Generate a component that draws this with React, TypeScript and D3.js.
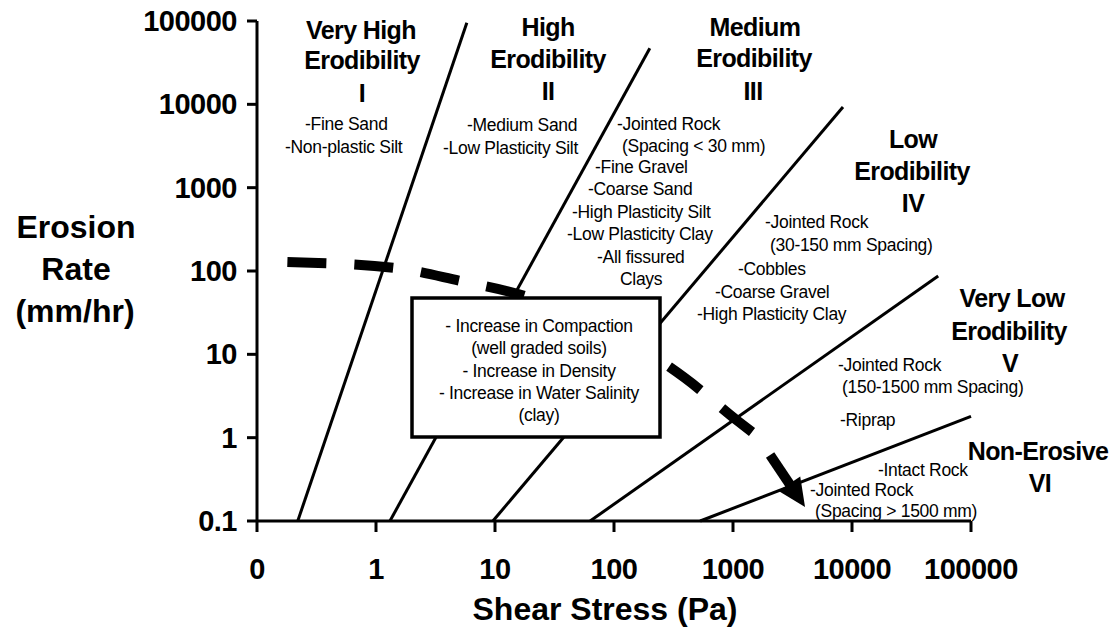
import React from "react";
import * as d3 from "d3";

// ---- data ----
const xTickValues = [0.1, 1, 10, 100, 1000, 10000, 100000];
const xTickLabels = ["0", "1", "10", "100", "1000", "10000", "100000"];
const yTickValues = [0.1, 1, 10, 100, 1000, 10000, 100000];
const yTickLabels = ["0.1", "1", "10", "100", "1000", "10000", "100000"];

// boundary lines between erodibility categories: [shear stress (Pa), erosion rate (mm/hr)]
const boundaryI: [number, number][] = [[0.22, 0.1], [5.8, 95000]];
const boundaryII: [number, number][] = [[1.31, 0.1], [200, 47000]];
const boundaryIII: [number, number][] = [[9.6, 0.1], [8400, 9300]];
const boundaryIV: [number, number][] = [[63, 0.1], [53000, 87]];
const boundaryV: [number, number][] = [[530, 0.1], [100000, 1.8]];
const boundaries = [boundaryI, boundaryII, boundaryIII, boundaryIV, boundaryV];

// trend (dashed arrow)
const trendCurve: [number, number][] = [
  [0.18, 128], [1.42, 109], [5.08, 76], [17.9, 50], [395, 5.2], [1100, 1.58], [1445, 1.17],
];
const arrowStart: [number, number] = [2050, 0.62];
const arrowTip: [number, number] = [4030, 0.147];

const zoneTitles = [
  ["Very High", "Erodibility", "I"],
  ["High", "Erodibility", "II"],
  ["Medium", "Erodibility", "III"],
  ["Low", "Erodibility", "IV"],
  ["Very Low", "Erodibility", "V"],
  ["Non-Erosive", "VI"],
];
const zoneMaterials = [
  ["-Fine Sand", "-Non-plastic Silt"],
  ["-Medium Sand", "-Low Plasticity Silt"],
  ["-Jointed Rock", "(Spacing < 30 mm)", "-Fine Gravel", "-Coarse Sand", "-High Plasticity Silt", "-Low Plasticity Clay", "-All fissured", "Clays"],
  ["-Jointed Rock", "(30-150 mm Spacing)", "-Cobbles", "-Coarse Gravel", "-High Plasticity Clay"],
  ["-Jointed Rock", "(150-1500 mm Spacing)", "-Riprap"],
  ["-Intact Rock", "-Jointed Rock", "(Spacing > 1500 mm)"],
];
const boxLines = [
  "- Increase in Compaction",
  "(well graded soils)",
  "- Increase in Density",
  "- Increase in Water Salinity",
  "(clay)",
];

// ---- layout (pixels) ----
const titleLayout = [
  { x: [361, 362, 362], y: [39, 69, 102] },
  { x: [548, 548, 548], y: [36, 68, 100] },
  { x: [755, 754, 753], y: [36, 67, 100] },
  { x: [913, 912, 913], y: [148, 180, 212] },
  { x: [1012, 1009, 1010], y: [307, 340, 372] },
  { x: [1038, 1040], y: [460, 492] },
];
const materialLayout = [
  { x: [305, 285], y: [130, 153] },
  { x: [467, 443], y: [131, 154] },
  { x: [617, 622, 595, 588, 572, 567, 597, 620], y: [130, 152, 173, 195, 218, 240, 263, 285] },
  { x: [765, 770, 738, 715, 697], y: [228, 251, 275, 298, 320] },
  { x: [838, 842, 840], y: [371, 393, 426] },
  { x: [878, 810, 815], y: [476, 496, 517] },
];
const boxRect = { x: 412, y: 298, w: 248, h: 139 };
const boxTextX = 539;
const boxTextY = [332, 354, 377, 399, 421];

const FONT = "'Liberation Sans', Arial, Helvetica, sans-serif";

export default function App() {
  const x = d3.scaleLog().domain([0.1, 100000]).range([257, 971]);
  const y = d3.scaleLog().domain([0.1, 100000]).range([521, 21]);

  const straight = d3
    .line<[number, number]>()
    .x((d) => x(d[0]))
    .y((d) => y(d[1]));
  const smooth = d3
    .line<[number, number]>()
    .x((d) => x(d[0]))
    .y((d) => y(d[1]))
    .curve(d3.curveMonotoneX);

  // arrow head
  const sx = x(arrowStart[0]);
  const sy = y(arrowStart[1]);
  const tx = x(arrowTip[0]);
  const ty = y(arrowTip[1]);
  const len = Math.hypot(tx - sx, ty - sy);
  const ux = (tx - sx) / len;
  const uy = (ty - sy) / len;
  const headLen = 28;
  const headHalf = 13;
  const bx = tx - ux * headLen;
  const by = ty - uy * headLen;
  const nx = -uy;
  const ny = ux;
  const headPts = [
    [bx + nx * headHalf, by + ny * headHalf],
    [tx, ty],
    [bx - nx * headHalf, by - ny * headHalf],
  ]
    .map((p) => p.join(","))
    .join(" ");

  const x0 = x(0.1);
  const y0 = y(0.1);

  return (
    <svg
      width={1116}
      height={630}
      style={{ position: "absolute", left: 0, top: 0, background: "#fff" }}
      fontFamily={FONT}
    >
      <rect x={0} y={0} width={1116} height={630} fill="#fff" />

      {/* boundary lines */}
      {boundaries.map((b, i) => (
        <path key={i} d={straight(b) || ""} stroke="#000" strokeWidth={3} fill="none" />
      ))}

      {/* dashed trend */}
      <path
        d={smooth(trendCurve) || ""}
        stroke="#000"
        strokeWidth={10}
        fill="none"
        strokeDasharray="39 28"
      />
      <line x1={sx} y1={sy} x2={bx + ux * 2} y2={by + uy * 2} stroke="#000" strokeWidth={10} />
      <polygon points={headPts} fill="#000" />

      {/* box */}
      <rect
        x={boxRect.x}
        y={boxRect.y}
        width={boxRect.w}
        height={boxRect.h}
        fill="#fff"
        stroke="#000"
        strokeWidth={3.5}
      />
      {boxLines.map((t, i) => (
        <text key={i} x={boxTextX} y={boxTextY[i]} fontSize={17.5} textAnchor="middle" letterSpacing={-0.3}>
          {t}
        </text>
      ))}

      {/* zone titles */}
      {zoneTitles.map((lines, i) =>
        lines.map((t, j) => (
          <text
            key={`t${i}-${j}`}
            x={titleLayout[i].x[j]}
            y={titleLayout[i].y[j]}
            fontSize={25}
            fontWeight="bold"
            textAnchor="middle"
            letterSpacing={-0.6}
          >
            {t}
          </text>
        ))
      )}

      {/* materials */}
      {zoneMaterials.map((lines, i) =>
        lines.map((t, j) => (
          <text
            key={`m${i}-${j}`}
            x={materialLayout[i].x[j]}
            y={materialLayout[i].y[j]}
            fontSize={17.5}
            letterSpacing={-0.3}
          >
            {t}
          </text>
        ))
      )}

      {/* axes */}
      <line x1={x0} y1={y(100000)} x2={x0} y2={y0} stroke="#000" strokeWidth={3} />
      <line x1={x0} y1={y0} x2={x(100000)} y2={y0} stroke="#000" strokeWidth={3} />
      {yTickValues.map((v, i) => (
        <g key={`yt${i}`}>
          <line x1={x0 - 10} x2={x0} y1={y(v)} y2={y(v)} stroke="#000" strokeWidth={3} />
          <text x={237} y={y(v) + 10} fontSize={29} fontWeight="bold" textAnchor="end" letterSpacing={-0.5}>
            {yTickLabels[i]}
          </text>
        </g>
      ))}
      {xTickValues.map((v, i) => (
        <g key={`xt${i}`}>
          <line x1={x(v)} x2={x(v)} y1={y0} y2={y0 + 11} stroke="#000" strokeWidth={3} />
          <text x={x(v)} y={579} fontSize={29} fontWeight="bold" textAnchor="middle" letterSpacing={-0.5}>
            {xTickLabels[i]}
          </text>
        </g>
      ))}

      {/* axis titles */}
      <text x={605} y={620} fontSize={32} fontWeight="bold" textAnchor="middle">
        Shear Stress (Pa)
      </text>
      <text fontSize={32} fontWeight="bold" textAnchor="middle">
        <tspan x={76} y={238}>Erosion</tspan>
        <tspan x={76} y={280}>Rate</tspan>
        <tspan x={75} y={322}>(mm/hr)</tspan>
      </text>
    </svg>
  );
}
